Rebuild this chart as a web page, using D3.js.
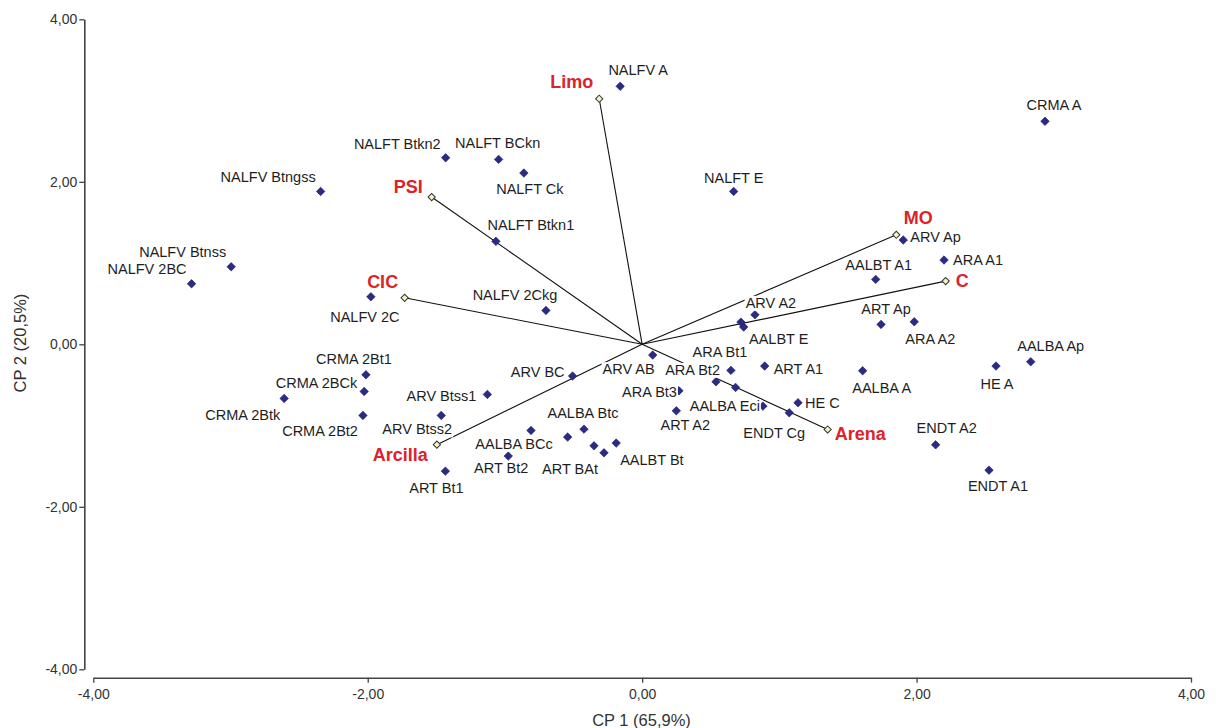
<!DOCTYPE html>
<html><head><meta charset="utf-8">
<script src="https://cdn.jsdelivr.net/npm/d3@7"></script>
<style>body{margin:0;background:#fff;} svg{display:block;}</style>
</head><body><svg id="chart" width="1216" height="728"></svg>
<script>
// ---------------- DATA ----------------
const pointNames = [
  "NALFV Btngss","NALFV Btnss","NALFV 2BC","NALFV 2C","NALFV A","NALFT Btkn2","NALFT BCkn","NALFT Ck",
  "NALFT Btkn1","NALFT E","CRMA A","ARV Ap","ARA A1","AALBT A1","NALFV 2Ckg","ARV A2","AALBT E","",
  "ART Ap","ARA A2","AALBA Ap","HE A","AALBA A","ART A1","ARA Bt1","ARA Bt2","","ARV AB","ARV BC",
  "ARA Bt3","ART A2","AALBA Eci","HE C","ENDT Cg","ENDT A2","ENDT A1","CRMA 2Bt1","CRMA 2BCk",
  "CRMA 2Btk","CRMA 2Bt2","ARV Btss1","ARV Btss2","ART Bt1","AALBA BCc","ART Bt2","AALBA Btc",
  "ART BAt","AALBT Bt","",""
];
const pointX = [
  -2.343,-2.995,-3.284,-1.977,-0.160,-1.432,-1.046,-0.862,
  -1.066,0.667,2.936,1.903,2.200,1.702,-0.701,0.822,0.740,0.720,
  1.741,1.983,2.832,2.579,1.607,0.893,0.647,0.538,0.681,0.077,-0.507,
  0.268,0.249,0.880,1.136,1.072,2.139,2.528,-2.013,-2.026,
  -2.609,-2.035,-1.128,-1.464,-1.434,-0.810,-0.976,-0.424,
  -0.351,-0.189,-0.543,-0.278
];
const pointY = [
  1.882,0.954,0.745,0.585,3.175,2.296,2.276,2.108,
  1.267,1.882,2.744,1.283,1.037,0.799,0.417,0.363,0.212,0.273,
  0.245,0.277,-0.215,-0.268,-0.326,-0.268,-0.321,-0.462,-0.531,-0.133,-0.391,
  -0.572,-0.819,-0.761,-0.720,-0.843,-1.237,-1.549,-0.375,-0.580,
  -0.666,-0.875,-0.617,-0.875,-1.561,-1.060,-1.376,-1.044,
  -1.250,-1.216,-1.142,-1.336
];
const variableNames = ["Limo","PSI","CIC","MO","C","Arena","Arcilla"];
const variableX = [-0.313,-1.534,-1.731,1.852,2.212,1.352,-1.496];
const variableY = [3.022,1.812,0.572,1.348,0.778,-1.048,-1.235];
const xTicks = [-4,-2,0,2,4];
const yTicks = [-4,-2,0,2,4];
const xTitle = "CP 1 (65,9%)";
const yTitle = "CP 2 (20,5%)";

// ---------------- LAYOUT (label placement: anchor, dx, dy) ----------------
const labelPlacement = {
  "NALFV Btngss":["end",-5,-14], "NALFV Btnss":["end",-5,-15], "NALFV 2BC":["end",-5,-15],
  "NALFV 2C":["middle",-6,20], "NALFV A":["middle",18,-16], "NALFT Btkn2":["end",-5,-14],
  "NALFT BCkn":["middle",-1,-16], "NALFT Ck":["middle",6,16], "NALFT Btkn1":["middle",35,-16],
  "NALFT E":["middle",0,-13], "CRMA A":["middle",9,-16], "ARV Ap":["start",7,-3],
  "ARA A1":["start",9,0], "AALBT A1":["middle",3,-14], "NALFV 2Ckg":["middle",-31,-15],
  "ARV A2":["middle",16,-12], "AALBT E":["middle",35,12], "ART Ap":["middle",5,-15],
  "ARA A2":["middle",16,17], "AALBA Ap":["middle",20,-16], "HE A":["middle",1,18],
  "AALBA A":["middle",19,17], "ART A1":["start",9,3], "ARA Bt1":["middle",-11,-18],
  "ARA Bt2":["end",4,-12], "ARV AB":["end",2,14], "ARV BC":["end",-8,-4],
  "ARA Bt3":["end",-2,1], "ART A2":["middle",9,14], "AALBA Eci":["end",-3,0],
  "HE C":["start",7,0], "ENDT Cg":["middle",-15,20], "ENDT A2":["middle",11,-17],
  "ENDT A1":["middle",9,16], "CRMA 2Bt1":["middle",-12,-16], "CRMA 2BCk":["end",-7,-9],
  "CRMA 2Btk":["end",-4,17], "CRMA 2Bt2":["end",-5,16], "ARV Btss1":["end",-11,1],
  "ARV Btss2":["middle",-24,14], "ART Bt1":["middle",-9,17], "AALBA BCc":["middle",-17,13],
  "ART Bt2":["middle",-7,12], "AALBA Btc":["middle",-1,-16], "ART BAt":["middle",-24,23],
  "AALBT Bt":["start",4,17]
};
const variablePlacement = {
  "Limo":["end",-6,-17], "PSI":["end",-9,-10], "CIC":["middle",-22,-16], "MO":["middle",22,-17],
  "C":["start",10,0], "Arena":["start",7,4], "Arcilla":["end",-9,10]
};

// ---------------- DRAW ----------------
const svg = d3.select("#chart");
svg.append("rect").attr("width",1216).attr("height",728).attr("fill","#fff");
const x = d3.scaleLinear().domain([-4,4]).range([93.3,1191]);
const y = d3.scaleLinear().domain([-4,4]).range([669.3,19.3]);
const fmt = v => v.toFixed(2).replace(".", ",");
const FONT = "'Liberation Sans', Arial, sans-serif";

const xAxis = svg.append("g").attr("transform","translate(0,677.7)")
  .call(d3.axisBottom(x).tickValues(xTicks).tickSize(5).tickSizeOuter(0).tickPadding(6).tickFormat(fmt));
const yAxis = svg.append("g").attr("transform","translate(84.3,0)")
  .call(d3.axisLeft(y).tickValues(yTicks).tickSize(5).tickSizeOuter(0).tickPadding(2).tickFormat(fmt));
[xAxis,yAxis].forEach(g=>{
  g.select(".domain").attr("stroke","#444").attr("stroke-width",1.6);
  g.selectAll(".tick line").attr("stroke","#444").attr("stroke-width",1.3);
  g.selectAll(".tick text").attr("fill","#333").style("font-family",FONT).style("font-size","14px");
});

svg.append("text").attr("x",641.5).attr("y",726).attr("text-anchor","middle")
  .style("font-family",FONT).style("font-size","16.5px").attr("fill","#333").text(xTitle);
svg.append("text").attr("transform","translate(26,343) rotate(-90)").attr("text-anchor","middle")
  .style("font-family",FONT).style("font-size","16.5px").attr("fill","#333").text(yTitle);

const vars = variableNames.map((n,i)=>({name:n, x:variableX[i], y:variableY[i]}));
const pts = pointNames.map((n,i)=>({name:n, x:pointX[i], y:pointY[i]}));

// vector lines
svg.append("g").selectAll("line").data(vars).join("line")
  .attr("x1",x(0)).attr("y1",y(0)).attr("x2",d=>x(d.x)).attr("y2",d=>y(d.y))
  .attr("stroke","#111").attr("stroke-width",1.1);

// points
const diamond = d3.symbol().type(d3.symbolSquare).size(36);
svg.append("g").selectAll("path").data(pts).join("path")
  .attr("d",diamond)
  .attr("transform",d=>`translate(${x(d.x)},${y(d.y)}) rotate(45)`)
  .attr("fill","#2b2b86").attr("stroke","#1c1c66").attr("stroke-width",0.6);

// labels with white background boxes
const labG = svg.append("g");
function addLabel(px, py, text, place, opts){
  const g = labG.append("g");
  const t = g.append("text").attr("x",px+place[1]).attr("y",py+place[2]).attr("dy","0.35em")
    .attr("text-anchor",place[0]).style("font-family",FONT)
    .style("font-size",opts.size).style("font-weight",opts.weight).attr("fill",opts.color).text(text);
  const b = t.node().getBBox();
  g.insert("rect","text").attr("x",b.x-1).attr("y",b.y+1).attr("width",b.width+2).attr("height",b.height-1)
    .attr("fill","#fff");
}
pts.forEach(d=>{
  if(!d.name || !labelPlacement[d.name]) return;
  addLabel(x(d.x), y(d.y), d.name, labelPlacement[d.name], {size:"14.5px", weight:"normal", color:"#1e1e1e"});
});

// vector end markers
svg.append("g").selectAll("path").data(vars).join("path")
  .attr("d",d3.symbol().type(d3.symbolSquare).size(26))
  .attr("transform",d=>`translate(${x(d.x)},${y(d.y)}) rotate(45)`)
  .attr("fill","#f4f4c2").attr("stroke","#333").attr("stroke-width",1);

vars.forEach(d=>{
  addLabel(x(d.x), y(d.y), d.name, variablePlacement[d.name], {size:"18px", weight:"bold", color:"#dd2229"});
});
</script></body></html>
